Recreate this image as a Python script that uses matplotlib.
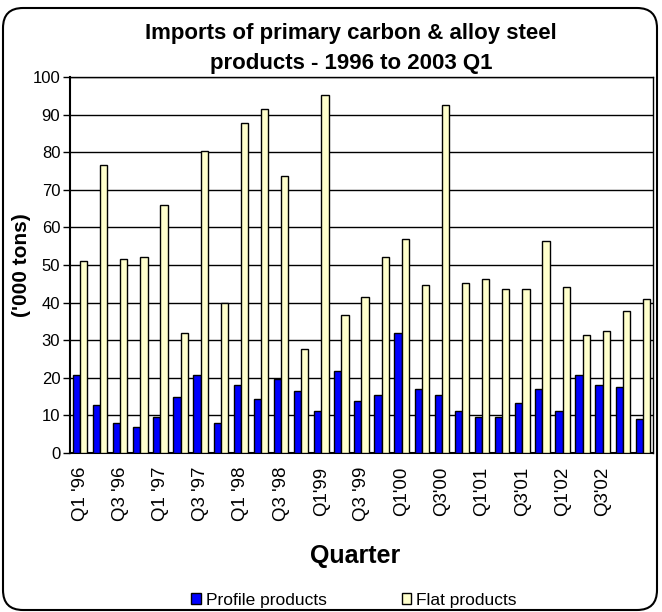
import numpy as np
import matplotlib.pyplot as plt
from matplotlib.patches import FancyBboxPatch

plt.rcParams['font.family'] = ['Liberation Sans', 'DejaVu Sans']

# quarterly imports, '000 tons, Q1 1996 .. Q1 2003
profile = [20.7, 12.7, 7.9, 6.8, 9.5, 14.8, 20.7, 7.9, 18.0, 14.3,
           19.6, 16.4, 11.1, 21.7, 13.7, 15.3, 31.8, 16.9, 15.3, 11.1,
           9.5, 9.5, 13.2, 16.9, 11.1, 20.7, 18.0, 17.5, 9.0]
flat = [51.0, 76.5, 51.5, 52.0, 65.9, 31.8, 80.2, 39.8, 87.7, 91.4,
        73.8, 27.6, 95.1, 36.6, 41.4, 52.0, 56.8, 44.6, 92.5, 45.1,
        46.2, 43.5, 43.5, 56.3, 44.1, 31.3, 32.4, 37.7, 40.9]
tick_labels = ["Q1 '96", "Q3 '96", "Q1 '97", "Q3 '97", "Q1 '98", "Q3 '98",
               "Q1'99", "Q3 '99", "Q1'00", "Q3'00", "Q1'01", "Q3'01",
               "Q1'02", "Q3'02"]

fig = plt.figure(figsize=(6.62, 6.12), dpi=100)
ax = fig.add_axes([0.1057, 0.2598, 0.8807, 0.6144])

x = np.arange(len(flat))
w = 0.36
ax.bar(x - w/2, profile, w, color='#0000FF', edgecolor='black', lw=1,
       label='Profile products', zorder=3)
ax.bar(x + w/2, flat, w, color='#FFFFCC', edgecolor='black', lw=1,
       label='Flat products', zorder=3)

ax.set_xlim(-0.5, len(flat) - 0.5)
ax.set_ylim(0, 100)
ax.set_yticks(np.arange(0, 101, 10))
ax.yaxis.grid(True, color='black', lw=1, zorder=0)
ax.set_xticks(x[0:28:2])
ax.set_xticklabels(tick_labels, rotation=90)
ax.tick_params(axis='x', length=0, pad=10, labelsize=13.5)
ax.tick_params(axis='y', length=5, width=1, direction='out', labelsize=12, pad=2)
for s in ax.spines.values():
    s.set_color('black')
    s.set_linewidth(1)
ax.spines['left'].set_linewidth(1.5)
ax.spines['bottom'].set_linewidth(1.5)

fig.text(351/662, 1 - 33/612, "Imports of primary carbon & alloy steel",
         ha='center', va='center', fontsize=16, fontweight='bold')
fig.text(351/662, 1 - 63/612, "products - 1996 to 2003 Q1",
         ha='center', va='center', fontsize=16, fontweight='bold')
fig.text(22/662, 1 - 265/612, "('000 tons)", rotation=90, ha='center',
         va='center', fontsize=15, fontweight='bold')
fig.text(355/662, 1 - 556/612, "Quarter", ha='center', va='center',
         fontsize=18, fontweight='bold')

fig.legend(loc='center', bbox_to_anchor=(354/662, 1 - 600/612), ncol=2,
           frameon=False, fontsize=12.5, handlelength=0.55, handleheight=0.55,
           handletextpad=0.3, columnspacing=4.3)

border = FancyBboxPatch((0.03, 0.02), 6.54, 6.02,
                        boxstyle='round,pad=0,rounding_size=0.2',
                        transform=fig.dpi_scale_trans, fill=False,
                        edgecolor='black', lw=1.5)
fig.add_artist(border)

fig.savefig('out.png', dpi=100)
